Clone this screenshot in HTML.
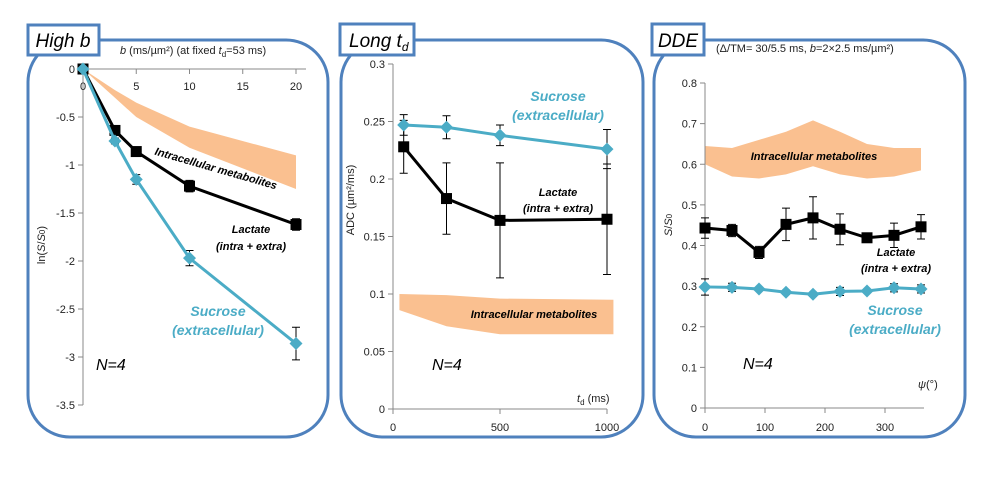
<!DOCTYPE html>
<html><head><meta charset="utf-8"><style>
body{margin:0;background:#fff;width:998px;height:481px;overflow:hidden;font-family:"Liberation Sans",sans-serif}
svg text{font-family:"Liberation Sans",sans-serif}
</style></head><body>
<svg id="s" width="998" height="481" xmlns="http://www.w3.org/2000/svg">
<rect x="28" y="40" width="300" height="397" rx="42" fill="none" stroke="#4f81bd" stroke-width="3"/>
<rect x="341" y="40" width="302" height="397" rx="42" fill="none" stroke="#4f81bd" stroke-width="3"/>
<rect x="654" y="40" width="311" height="397" rx="42" fill="none" stroke="#4f81bd" stroke-width="3"/>
<g id="p1"></g>
<g id="p2"></g>
<g id="p3"></g>
<rect x="28" y="25" width="71" height="30" fill="#fff" stroke="#4f81bd" stroke-width="3"/>
<text x="63" y="47" font-size="19" font-style="italic" text-anchor="middle">High b</text>
<rect x="340" y="24" width="74" height="31" fill="#fff" stroke="#4f81bd" stroke-width="3"/>
<text x="349" y="47" font-size="19" font-style="italic">Long t<tspan font-size="12" dy="4">d</tspan></text>
<rect x="652" y="24" width="52" height="31" fill="#fff" stroke="#4f81bd" stroke-width="3"/>
<text x="678" y="47" font-size="19" font-style="italic" text-anchor="middle">DDE</text>
</svg>
<script>
// Panel 1 data
const p1B=[0,3,5,10,20];
const p1Lac=[0,-0.64,-0.86,-1.22,-1.62];
const p1LacErr=[0,0.05,0.04,0.06,0.06];
const p1Suc=[0,-0.75,-1.15,-1.97,-2.86];
const p1SucErr=[0,0.03,0.05,0.08,0.17];
const p1BandB=[0,3,5,10,20];
const p1BandUp=[0,-0.22,-0.35,-0.6,-0.9];
const p1BandLo=[0,-0.3,-0.5,-0.82,-1.25];
const p1YTicks=[0,-0.5,-1,-1.5,-2,-2.5,-3,-3.5];
const p1XTicks=[0,5,10,15,20];
// Panel 2 data
const p2Td=[50,250,500,1000];
const p2Suc=[0.247,0.245,0.238,0.226];
const p2SucErr=[0.009,0.010,0.009,0.017];
const p2Lac=[0.228,0.183,0.164,0.165];
const p2LacErr=[0.023,0.031,0.05,0.048];
const p2BandX=[30,250,500,1030];
const p2BandUp=[0.1,0.099,0.096,0.095];
const p2BandLo=[0.086,0.072,0.065,0.065];
const p2YTicks=[0,0.05,0.1,0.15,0.2,0.25,0.3];
const p2XTicks=[0,500,1000];
// Panel 3 data
const p3Psi=[0,45,90,135,180,225,270,315,360];
const p3Lac=[0.443,0.437,0.383,0.452,0.468,0.44,0.419,0.425,0.446];
const p3LacErr=[0.025,0.015,0.015,0.04,0.052,0.038,0.005,0.03,0.03];
const p3Suc=[0.298,0.297,0.293,0.285,0.28,0.287,0.288,0.296,0.293];
const p3SucErr=[0.02,0.01,0.005,0.005,0.005,0.01,0.005,0.01,0.01];
const p3BandUp=[0.645,0.64,0.66,0.68,0.708,0.68,0.65,0.64,0.64];
const p3BandLo=[0.6,0.57,0.565,0.575,0.595,0.575,0.565,0.57,0.585];
const p3YTicks=[0,0.1,0.2,0.3,0.4,0.5,0.6,0.7,0.8];
const p3XTicks=[0,100,200,300];

const NS="http://www.w3.org/2000/svg";
function mk(par,tag,at,txt){const e=document.createElementNS(NS,tag);for(const k in at)e.setAttribute(k,at[k]);if(txt!==undefined)e.textContent=txt;par.appendChild(e);return e;}
function lin(d0,d1,r0,r1){return v=>r0+(v-d0)*(r1-r0)/(d1-d0);}
const BLUE="#4bacc6",BAND="#fac090";

function band(g,xs,up,lo,X,Y){
  let d="M"+xs.map((x,i)=>X(x)+","+Y(up[i])).join("L");
  for(let i=xs.length-1;i>=0;i--)d+="L"+X(xs[i])+","+Y(lo[i]);
  const p=mk(g,"path",{d:d+"Z",fill:BAND});
  
  
}
function series(g,xs,ys,es,X,Y,color,shape,name){
  xs.forEach((x,i)=>{if(es[i]>0){
    const l=mk(g,"path",{d:`M${X(x)},${Y(ys[i]+es[i])}V${Y(ys[i]-es[i])}M${X(x)-4},${Y(ys[i]+es[i])}h8M${X(x)-4},${Y(ys[i]-es[i])}h8`,stroke:"#000","stroke-width":1,fill:"none"});
    
    
  }});
  const pl=mk(g,"polyline",{points:xs.map((x,i)=>X(x)+","+Y(ys[i])).join(" "),fill:"none",stroke:color,"stroke-width":3});
  
  
  xs.forEach((x,i)=>{
    const cx=X(x),cy=Y(ys[i]);let m;
    if(shape==="sq")m=mk(g,"rect",{x:cx-5.5,y:cy-5.5,width:11,height:11,fill:"#000"});
    else m=mk(g,"path",{d:`M${cx},${cy-6.5}L${cx+6.5},${cy}L${cx},${cy+6.5}L${cx-6.5},${cy}Z`,fill:color});
    
    
  });
}
function yaxis(g,x,ticks,Y,fmt){
  const a=mk(g,"line",{x1:x,x2:x,y1:Y(ticks[0]),y2:Y(ticks[ticks.length-1]),stroke:"#888"});
  
  ticks.forEach(t=>{mk(g,"line",{x1:x-5,x2:x,y1:Y(t),y2:Y(t),stroke:"#888"});
    const tx=mk(g,"text",{x:x-8,y:Y(t)+4,"font-size":11,"text-anchor":"end",fill:"#222"},fmt(t));
    });
}
function xaxis(g,y,ticks,X,x0,x1,labY){
  const a=mk(g,"line",{x1:x0,x2:x1,y1:y,y2:y,stroke:"#888"});
  
  ticks.forEach(t=>{mk(g,"line",{x1:X(t),x2:X(t),y1:y,y2:y+5,stroke:"#888"});
    const tx=mk(g,"text",{x:X(t),y:labY,"font-size":11,"text-anchor":"middle",fill:"#222"},String(t));
    });
}
function lbl(g,x,y,size,txt,color,name,anchor,bold,rot){
  const t=mk(g,"text",{x:x,y:y,"font-size":size,"font-style":"italic","font-weight":bold?"bold":"normal","text-anchor":anchor||"middle",fill:color,transform:rot?`rotate(${rot} ${x} ${y})`:""},txt);
  return t;
}
// Panel 1
{const g=document.getElementById("p1");const X=lin(0,20,83,296),Y=lin(0,-3.5,69,405);
band(g,p1BandB,p1BandUp,p1BandLo,X,Y);
yaxis(g,83,p1YTicks,Y,t=>String(t));
xaxis(g,69,p1XTicks,X,83,306,90);
series(g,p1B,p1Lac,p1LacErr,X,Y,"#000","sq","lactate");
series(g,p1B,p1Suc,p1SucErr,X,Y,BLUE,"di","sucrose");
lbl(g,215,172,11,"Intracellular metabolites","#000","band-label",null,true,16);
lbl(g,251,233,11,"Lactate","#000","lactate-label",null,true);
lbl(g,251,250,11,"(intra + extra)","#000","lactate-label-2",null,true);
lbl(g,218,316,14,"Sucrose",BLUE,"sucrose-label",null,true);
lbl(g,218,335,14,"(extracellular)",BLUE,"sucrose-label-2",null,true);
lbl(g,96,370,16,"N=4","#000","n-label","start");
const t=mk(g,"text",{x:120,y:54,"font-size":11,fill:"#222"});t.innerHTML='<tspan font-style="italic">b</tspan> (ms/µm²) (at fixed <tspan font-style="italic">t</tspan><tspan font-size="8" dy="3">d</tspan><tspan dy="-3">=53 ms)</tspan>';

const yt=mk(g,"text",{x:45,y:245,"font-size":11,"text-anchor":"middle",transform:"rotate(-90 45 245)",fill:"#222"});yt.innerHTML='ln(<tspan font-style="italic">S</tspan>/<tspan font-style="italic">S</tspan><tspan font-size="8">0</tspan>)';
}
// Panel 2
{const g=document.getElementById("p2");const X=lin(0,1000,393,607),Y=lin(0,0.3,409,64);
band(g,p2BandX,p2BandUp,p2BandLo,X,Y);
yaxis(g,393,p2YTicks,Y,t=>String(t));
xaxis(g,409,p2XTicks,X,393,607,431);
series(g,p2Td,p2Lac,p2LacErr,X,Y,"#000","sq","lactate");
series(g,p2Td,p2Suc,p2SucErr,X,Y,BLUE,"di","sucrose");
lbl(g,534,318,11,"Intracellular metabolites","#000","band-label",null,true);
lbl(g,558,196,11,"Lactate","#000","lactate-label",null,true);
lbl(g,558,212,11,"(intra + extra)","#000","lactate-label-2",null,true);
lbl(g,558,101,14,"Sucrose",BLUE,"sucrose-label",null,true);
lbl(g,558,120,14,"(extracellular)",BLUE,"sucrose-label-2",null,true);
lbl(g,432,370,16,"N=4","#000","n-label","start");
const t=mk(g,"text",{x:577,y:402,"font-size":11,fill:"#222"});t.innerHTML='<tspan font-style="italic">t</tspan><tspan font-size="8" dy="3">d</tspan><tspan dy="-3"> (ms)</tspan>';

const yt=mk(g,"text",{x:354,y:200,"font-size":11,"text-anchor":"middle",transform:"rotate(-90 354 200)",fill:"#222"},"ADC (µm²/ms)");
}
// Panel 3
{const g=document.getElementById("p3");const X=lin(0,300,705,885),Y=lin(0,0.8,408,83);
band(g,p3Psi,p3BandUp,p3BandLo,X,Y);
yaxis(g,705,p3YTicks,Y,t=>t===0?"0":t.toFixed(1));
xaxis(g,408,p3XTicks,X,705,924,431);
series(g,p3Psi,p3Lac,p3LacErr,X,Y,"#000","sq","lactate");
series(g,p3Psi,p3Suc,p3SucErr,X,Y,BLUE,"di","sucrose");
lbl(g,814,160,11,"Intracellular metabolites","#000","band-label",null,true);
lbl(g,896,256,11,"Lactate","#000","lactate-label",null,true);
lbl(g,896,272,11,"(intra + extra)","#000","lactate-label-2",null,true);
lbl(g,895,315,14,"Sucrose",BLUE,"sucrose-label",null,true);
lbl(g,895,334,14,"(extracellular)",BLUE,"sucrose-label-2",null,true);
lbl(g,743,369,16,"N=4","#000","n-label","start");
const t=mk(g,"text",{x:918,y:388,"font-size":11,fill:"#222"});t.innerHTML='<tspan font-style="italic">ψ</tspan>(°)';

const s=mk(g,"text",{x:716,y:52,"font-size":11,fill:"#222"});s.innerHTML='(Δ/TM= 30/5.5 ms, <tspan font-style="italic">b</tspan>=2×2.5 ms/µm²)';

const yt=mk(g,"text",{x:672,y:225,"font-size":11,"text-anchor":"middle",transform:"rotate(-90 672 225)",fill:"#222"});yt.innerHTML='<tspan font-style="italic">S</tspan>/<tspan font-style="italic">S</tspan><tspan font-size="8">0</tspan>';
}
</script>
</body></html>
